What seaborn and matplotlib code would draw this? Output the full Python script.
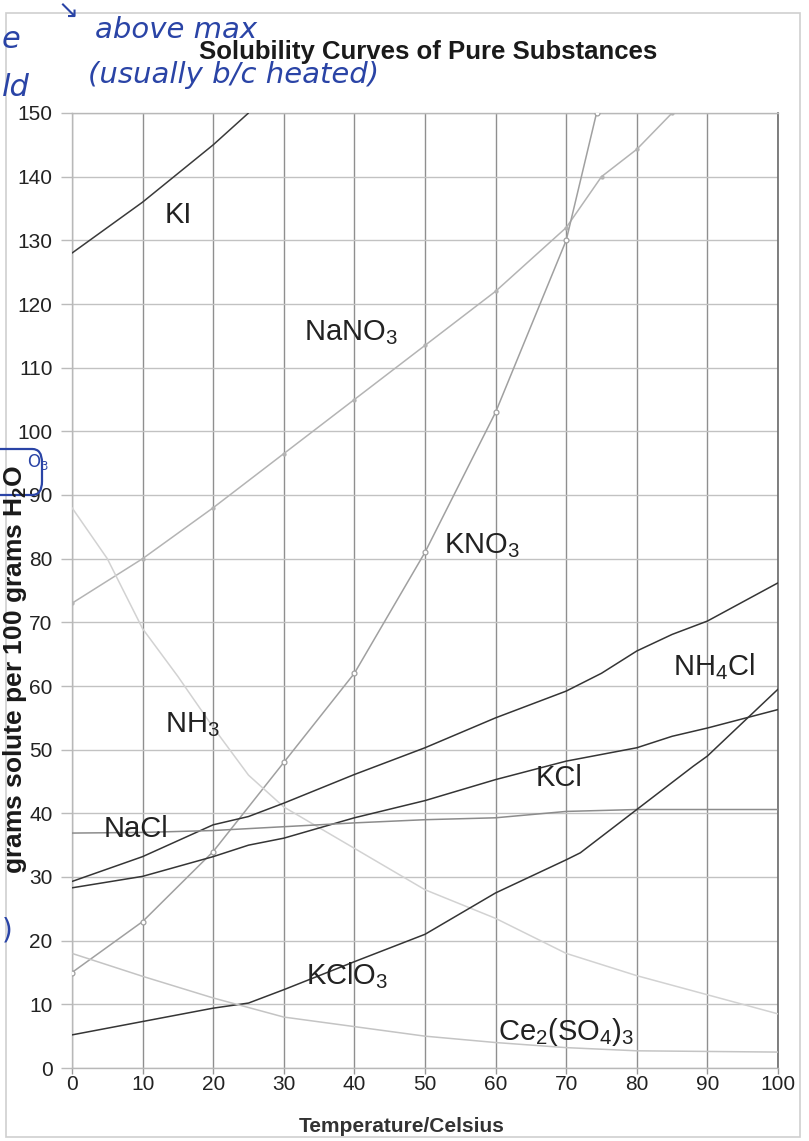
import matplotlib
matplotlib.use("Agg")
import matplotlib.pyplot as plt
import pandas as pd
import seaborn as sns
from matplotlib.patches import Rectangle, FancyBboxPatch

sns.set_theme(style="whitegrid")
plt.rcParams['font.family'] = ['Liberation Sans', 'DejaVu Sans']
plt.rcParams['mathtext.default'] = 'regular'

# solubility curves (deg C -> g solute / 100 g water)
ki_t = [0, 10, 20, 25]
ki_s = [128, 136, 145, 150]

nano3_t = [0, 10, 20, 30, 40, 50, 60, 70, 75, 80, 85]
nano3_s = [73, 80, 88, 96.5, 105, 113.5, 122, 132, 140, 144.3, 150]

kno3_t = [0, 10, 20, 30, 40, 50, 60, 70, 74.3]
kno3_s = [15, 23, 34, 48, 62, 81, 103, 130, 150]

nh3_t = [0, 5, 10, 15, 20, 25, 30, 40, 50, 60, 70, 80, 90, 100]
nh3_s = [88, 80, 69, 61.5, 53.5, 46, 41, 34.5, 28, 23.5, 18, 14.5, 11.5, 8.5]

nh4cl_t = [0, 10, 20, 25, 30, 40, 50, 60, 70, 75, 80, 85, 90, 100]
nh4cl_s = [29.3, 33.2, 38.2, 39.5, 41.6, 46.1, 50.3, 55, 59.2, 62, 65.5, 68.1, 70.2, 76.2]

kcl_t = [0, 10, 20, 25, 30, 40, 50, 60, 70, 80, 85, 90, 100]
kcl_s = [28.3, 30.1, 33.2, 35, 36.1, 39.3, 42, 45.3, 48.2, 50.3, 52.1, 53.4, 56.3]

nacl_t = [0, 10, 20, 30, 40, 50, 60, 70, 80, 90, 100]
nacl_s = [36.9, 37, 37.3, 37.9, 38.5, 39, 39.3, 40.3, 40.6, 40.6, 40.6]

kclo3_t = [0, 10, 20, 25, 30, 40, 50, 60, 70, 72, 80, 88, 90, 100]
kclo3_s = [5.2, 7.3, 9.4, 10.2, 12.3, 16.7, 21, 27.5, 32.7, 33.8, 40.6, 47.4, 49, 59.5]

ce_t = [0, 10, 20, 25, 30, 40, 50, 60, 70, 80, 90, 100]
ce_s = [18, 14.4, 11, 9.5, 8, 6.5, 5, 4, 3.2, 2.7, 2.6, 2.5]

# curve labels and where they sit on the chart
label_text = ["KI", "NaNO$_3$", "KNO$_3$", "NH$_3$", "NaCl", "KCl",
              "NH$_4$Cl", "KClO$_3$", "Ce$_2$(SO$_4$)$_3$"]
label_t = [15, 39.5, 58, 17, 9, 69, 91, 39, 70]
label_s = [134, 115.5, 82, 54, 37.6, 45.5, 63, 14.5, 5.6]

# (temps, values, colour, marker, marker size, open marker)
curves = [
    (ki_t, ki_s, "#3a3a3a", None, 0, False),
    (nano3_t, nano3_s, "#b4b4b4", "o", 2.2, False),
    (kno3_t, kno3_s, "#a0a0a0", "o", 3.5, True),
    (nh3_t, nh3_s, "#d2d2d2", None, 0, False),
    (nh4cl_t, nh4cl_s, "#353535", None, 0, False),
    (kcl_t, kcl_s, "#353535", None, 0, False),
    (nacl_t, nacl_s, "#8c8c8c", None, 0, False),
    (kclo3_t, kclo3_s, "#353535", None, 0, False),
    (ce_t, ce_s, "#c4c4c4", None, 0, False),
]

W, H = 809, 1141
fig = plt.figure(figsize=(W / 100, H / 100), dpi=100)
ax = fig.add_axes([72 / W, 1 - 1068 / H, (778 - 72) / W, (1068 - 113) / H])

for t, s, col, mk, ms, hollow in curves:
    df = pd.DataFrame({"t": t, "s": s})
    if mk:
        sns.lineplot(data=df, x="t", y="s", ax=ax, color=col, lw=1.1,
                     marker=mk, markersize=ms,
                     markerfacecolor="white" if hollow else col,
                     markeredgecolor=col, markeredgewidth=0.9, zorder=3)
    else:
        sns.lineplot(data=df, x="t", y="s", ax=ax, color=col, lw=1.1, zorder=3)

for txt, t, s in zip(label_text, label_t, label_s):
    ax.text(t, s, txt, ha="center", va="center", fontsize=21, color="#222222", zorder=4)

ax.set_xlim(0, 100)
ax.set_ylim(0, 150)
ax.set_xticks(range(0, 101, 10))
ax.set_yticks(range(0, 151, 10))
ax.set_xlabel("")
ax.set_ylabel("")
ax.set_facecolor("white")
ax.grid(False)
ax.grid(axis="x", color="#8f8f8f", lw=1.0, zorder=0)
ax.grid(axis="y", color="#c2c2c2", lw=1.0, zorder=0)
for side in ["left", "top", "bottom"]:
    ax.spines[side].set_color("#b8b8b8")
    ax.spines[side].set_linewidth(1.0)
ax.spines["right"].set_color("#6a6a6a")
ax.spines["right"].set_linewidth(1.2)
ax.tick_params(axis="x", length=4, width=1, pad=1, color="#999999",
               labelsize=15, labelcolor="#222222", bottom=True)
ax.tick_params(axis="y", length=8, width=1, pad=6, color="#bbbbbb",
               labelsize=15, labelcolor="#222222", left=True)

fig.text(428 / W, 1 - 52 / H, "Solubility Curves of Pure Substances",
         ha="center", va="center", fontsize=18.5, fontweight="bold", color="#1a1a1a")
fig.text(402 / W, 1 - 1127 / H, "Temperature/Celsius",
         ha="center", va="center", fontsize=15, fontweight="bold", color="#333333")
fig.text(15 / W, 1 - 669 / H, "grams solute per 100 grams H$_2$O", rotation=90,
         ha="center", va="center", fontsize=19, fontweight="bold", color="#1a1a1a")

# scanned page border
fig.add_artist(Rectangle((6 / W, 1 - 1137 / H), 794 / W, 1124 / H,
                         transform=fig.transFigure, fill=False, ec="#cfcfcf", lw=1.2))

# handwritten notes in blue ink
ink = "#2a44a6"
hand = ["DejaVu Sans"]
fig.text(95 / W, 1 - 30 / H, "above max", ha="left", va="center", fontsize=21,
         color=ink, family=hand, style="italic")
fig.text(88 / W, 1 - 75 / H, "(usually b/c heated)", ha="left", va="center",
         fontsize=21, color=ink, family=hand, style="italic")
fig.text(68 / W, 1 - 12 / H, "\u2198", ha="center", va="center", fontsize=18,
         color=ink, family=hand)
fig.text(2 / W, 1 - 40 / H, "e", ha="left", va="center", fontsize=22,
         color=ink, family=hand, style="italic")
fig.text(2 / W, 1 - 88 / H, "ld", ha="left", va="center", fontsize=22,
         color=ink, family=hand, style="italic")
fig.text(2 / W, 1 - 930 / H, ")", ha="left", va="center", fontsize=20,
         color=ink, family=hand)
fig.add_artist(FancyBboxPatch((-20 / W, 1 - 495 / H), 62 / W, 46 / H,
                              boxstyle="round,pad=0,rounding_size=0.012",
                              transform=fig.transFigure, fill=False, ec=ink, lw=1.6))
fig.text(38 / W, 1 - 462 / H, "O$_3$", ha="center", va="center", fontsize=12,
         color=ink, family=hand)

fig.savefig("out.png", dpi=100)
